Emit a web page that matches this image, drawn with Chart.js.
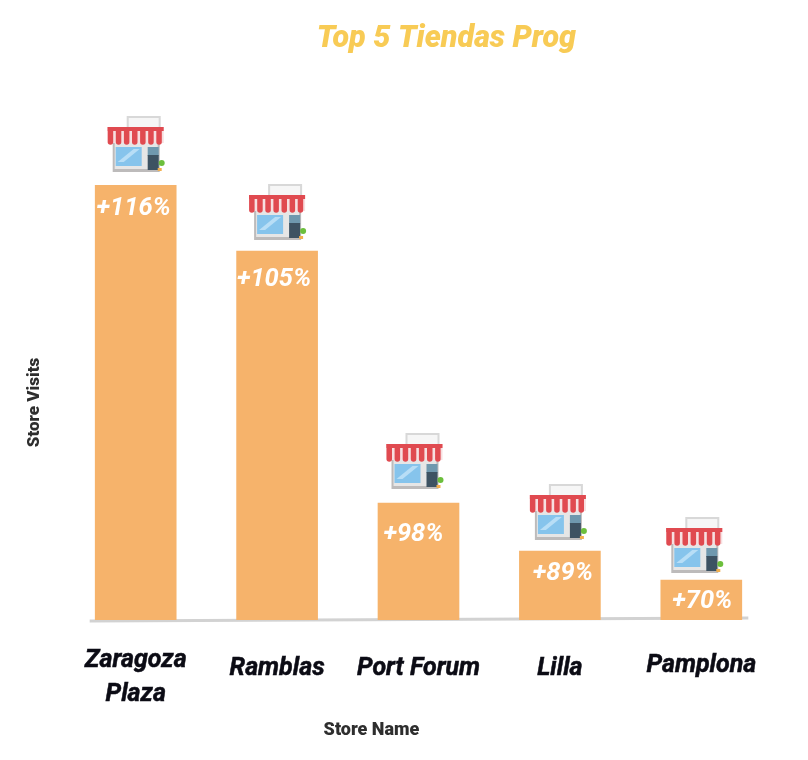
<!DOCTYPE html>
<html>
<head>
<meta charset="utf-8">
<style>
  body { margin: 0; background: #fff; }
  canvas { display: block; filter: blur(0.5px); }
</style>
<script src="https://cdn.jsdelivr.net/npm/chart.js@4"></script>
</head>
<body>
<canvas id="grafico" width="808" height="760"></canvas>
<script>
// dati
var stores = [['Zaragoza', 'Plaza'], 'Ramblas', 'Port Forum', 'Lilla', 'Pamplona'];
var visits = [435, 369, 117, 69, 40];
var growth = ['+116%', '+105%', '+98%', '+89%', '+70%'];

// piccoli aggiustamenti per ogni colonna
var tickLineHeight = [34, 50, 50, 50, 44];
var growthOffset = [24, 29, 32, 23, 22];
var growthShift = [-2, -3, -5, 3, 1];
var iconGap = [13, 11, 14, 11, 7];
var iconShift = [1, 1, -3, -1, -6];

// disegna l'icona del negozio, cx = centro, bottom = base dell'icona
function drawStore(ctx, cx, bottom) {
  var x = cx - 29, y = bottom - 56;
  ctx.save();
  ctx.filter = 'blur(0.5px)';
  // insegna
  ctx.fillStyle = '#f6f6f6';
  ctx.strokeStyle = '#d8d8d8';
  ctx.lineWidth = 2;
  ctx.fillRect(x + 20, y + 1, 32, 11);
  ctx.strokeRect(x + 20, y + 1, 32, 11);
  // edificio
  ctx.fillStyle = '#bdbbbb';
  ctx.fillRect(x + 5, y + 24, 47, 32);
  ctx.fillStyle = '#e6e6e6';
  ctx.fillRect(x + 7, y + 24, 43, 29);
  // vetrina
  ctx.fillStyle = '#86c4ec';
  ctx.fillRect(x + 8, y + 31, 26, 19);
  ctx.fillStyle = '#b8def6';
  ctx.beginPath();
  ctx.moveTo(x + 10, y + 46);
  ctx.lineTo(x + 26, y + 33);
  ctx.lineTo(x + 32, y + 33);
  ctx.lineTo(x + 16, y + 46);
  ctx.fill();
  // porta
  ctx.fillStyle = '#6f98ae';
  ctx.fillRect(x + 40, y + 31, 11, 9);
  ctx.fillStyle = '#3d5262';
  ctx.fillRect(x + 40, y + 39, 11, 15);
  // pallino verde
  ctx.fillStyle = '#6cbf3c';
  ctx.beginPath();
  ctx.arc(x + 54, y + 47, 3, 0, Math.PI * 2);
  ctx.fill();
  ctx.fillStyle = '#f2b04f';
  ctx.fillRect(x + 50, y + 52, 4, 3);
  // tenda a strisce
  ctx.fillStyle = '#f7dfe0';
  ctx.fillRect(x, y + 11, 56, 16);
  for (var i = 0; i < 7; i++) {
    ctx.fillStyle = '#e04a50';
    ctx.fillRect(x + i * 8.1, y + 11, 5.5, 15);
    ctx.beginPath();
    ctx.arc(x + i * 8.1 + 2.75, y + 26, 2.75, 0, Math.PI);
    ctx.fill();
  }
  ctx.fillStyle = '#e04a50';
  ctx.fillRect(x, y + 11, 56, 4);
  ctx.restore();
}

// linea di base, icone e percentuali sopra le colonne
var extras = {
  id: 'extras',
  beforeDatasetsDraw: function(chart) {
    var ctx = chart.ctx;
    var bars = chart.getDatasetMeta(0).data;
    ctx.save();
    ctx.strokeStyle = '#d2d2d2';
    ctx.lineWidth = 3;
    ctx.beginPath();
    ctx.moveTo(bars[0].x - 46, chart.chartArea.bottom + 1);
    ctx.lineTo(bars[4].x + 47, chart.chartArea.bottom - 2);
    ctx.stroke();
    ctx.restore();
  },
  afterDatasetsDraw: function(chart) {
    var ctx = chart.ctx;
    var bars = chart.getDatasetMeta(0).data;
    bars.forEach(function(bar, i) {
      drawStore(ctx, bar.x + iconShift[i], bar.y - iconGap[i]);
      ctx.save();
      ctx.font = 'italic bold 25.5px Roboto';
      ctx.fillStyle = '#fff';
      ctx.textAlign = 'center';
      ctx.textBaseline = 'middle';
      ctx.fillText(growth[i], bar.x + growthShift[i], bar.y + growthOffset[i]);
      ctx.restore();
    });
  }
};

var chart = new Chart(document.getElementById('grafico'), {
  type: 'bar',
  data: {
    labels: stores,
    datasets: [{
      label: 'Store Visits',
      data: visits,
      backgroundColor: '#f6b36b',
      barThickness: 81
    }]
  },
  options: {
    responsive: false,
    animation: false,
    layout: { padding: { left: 21, right: 36, top: 0, bottom: 0 } },
    plugins: {
      legend: { display: false },
      tooltip: { enabled: false },
      title: {
        display: true,
        text: 'Top 5 Tiendas Prog',
        color: '#f8cb55',
        font: { family: 'Roboto', size: 30.5, weight: 900, style: 'italic', lineHeight: '36px' },
        padding: { top: 21, bottom: 128 }
      }
    },
    scales: {
      x: {
        grid: { display: false },
        border: { display: false },
        afterFit: function(scale) { scale.height = 140; },
        ticks: {
          color: '#0b0b14',
          textStrokeColor: '#0b0b14',
          textStrokeWidth: 0.5,
          padding: 16,
          maxRotation: 0,
          autoSkip: false,
          font: function(c) {
            return { family: 'Roboto', size: 25, weight: 'bold', style: 'italic', lineHeight: tickLineHeight[c.index] + 'px' };
          }
        },
        title: {
          display: true,
          text: 'Store Name',
          color: '#2e2e2e',
          font: { family: 'Roboto', size: 18, weight: 900 },
          padding: { top: 0, bottom: 19 }
        }
      },
      y: {
        min: 0,
        max: 435,
        grid: { display: false },
        border: { display: false },
        ticks: { display: false },
        afterFit: function(scale) { scale.width = 44; },
        title: {
          display: true,
          text: 'Store Visits',
          color: '#2e2e2e',
          font: { family: 'Roboto', size: 17, weight: 900 },
          padding: { top: 4, bottom: 0 }
        }
      }
    }
  },
  plugins: [extras]
});

// titolo e nome asse non sono centrati sul grafico nell'originale
chart.titleBlock.left += 50;
chart.titleBlock.right += 50;
var xScale = chart.scales.x;
var drawXTitle = xScale.drawTitle;
xScale.drawTitle = function() {
  chart.ctx.save();
  chart.ctx.translate(-47, 0);
  drawXTitle.call(xScale);
  chart.ctx.restore();
};
chart.draw();
</script>
</body>
</html>
